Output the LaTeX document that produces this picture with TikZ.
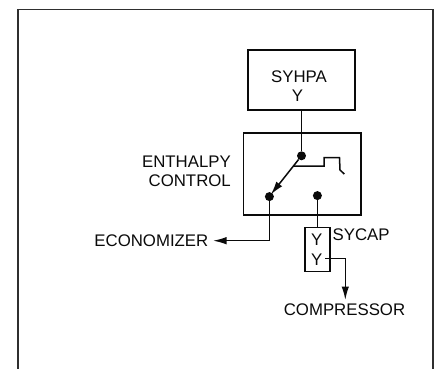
\documentclass[tikz,border=0pt]{standalone}
\usepackage{fontspec}
\setmainfont{Liberation Sans}
\usetikzlibrary{arrows.meta}
\definecolor{ink}{HTML}{0A0A0A}
\tikzset{
  unitbox/.style={draw=ink,line width=1.5pt,inner sep=0pt,align=center},
  pivot/.style={circle,fill=ink,inner sep=0pt,minimum width=7.5pt,minimum height=9pt},
  lbl/.style={inner sep=0pt,text=ink},
  wire/.style={draw=ink,line width=1.5pt},
  flow/.style={wire,-{Latex[length=13.5pt,width=7.5pt]}}
}
\begin{document}
\begin{tikzpicture}[x=1pt,y=-1pt,font=\fontsize{16.8pt}{19.2pt}\selectfont]
 \useasboundingbox (0,0) rectangle (439,369);
 % outer frame, open at the bottom
 \coordinate (FrameA) at (18,369);
 \coordinate (FrameB) at (18,9.5);
 \coordinate (FrameC) at (433,9.5);
 \coordinate (FrameD) at (433,369);
 \draw[ink!85,line width=1.3pt] (FrameA)--(FrameB)--(FrameC)--(FrameD);
 % boxes
 \node[unitbox,minimum width=107pt,minimum height=60pt] (syhpa) at (301.5,80) {};
 \node[unitbox,minimum width=117.5pt,minimum height=82pt] (control) at (302.2,174) {};
 \node[unitbox,minimum width=25pt,minimum height=44pt] (sycapbox) at (317.5,249.5) {};
 % contacts
 \node[pivot] (top) at (301.5,155.8) {};
 \node[pivot] (left) at (269.4,196.6) {};
 \node[pivot] (right) at (317.4,195.6) {};
 % labels
 \node[lbl,align=center] (syhpatext) at (299,86.5) {SYHPA\\\hspace*{-3pt}Y};
 \node[lbl,align=center] (sycapys) at (316.8,249.7) {Y\\Y};
 \node[lbl,align=right,anchor=east] (enthalpy) at (231,171.7) {ENTHALPY\\CONTROL};
 \node[lbl,anchor=west] (sycap) at (332.5,235) {SYCAP};
 \node[lbl,anchor=east] (economizer) at (208.5,241) {ECONOMIZER};
 \node[lbl] (compressor) at (344.5,310) {COMPRESSOR};
 % wires
 \coordinate (Turn) at (269.4,240.7);
 \coordinate (EcoTip) at (213,240.7);
 \coordinate (YOut) at (325,258.3);
 \coordinate (CompTurn) at (345.3,258.3);
 \coordinate (CompTip) at (345.3,300);
 \coordinate (ArmTip) at (270.8,194.6);
 \draw[wire] (syhpa.south -| top)--(top);
 \draw[flow] (top)--(ArmTip);
 \draw[wire] (left)--(Turn);
 \draw[flow] (Turn)--(EcoTip);
 \draw[wire] (right)--(right |- sycapbox.north);
 \draw[flow] (YOut)--(CompTurn)--(CompTip);
 % linkage
 \coordinate (LinkA) at (293.3,166);
 \coordinate (LinkB) at (324,166);
 \coordinate (LinkC) at (324,157.7);
 \coordinate (LinkD) at (339.5,157.7);
 \coordinate (LinkE) at (340,170);
 \coordinate (LinkF) at (344.3,174);
 \draw[wire] (LinkA)--(LinkB)--(LinkC)--(LinkD)--(LinkE)--(LinkF);
\end{tikzpicture}
\end{document}
